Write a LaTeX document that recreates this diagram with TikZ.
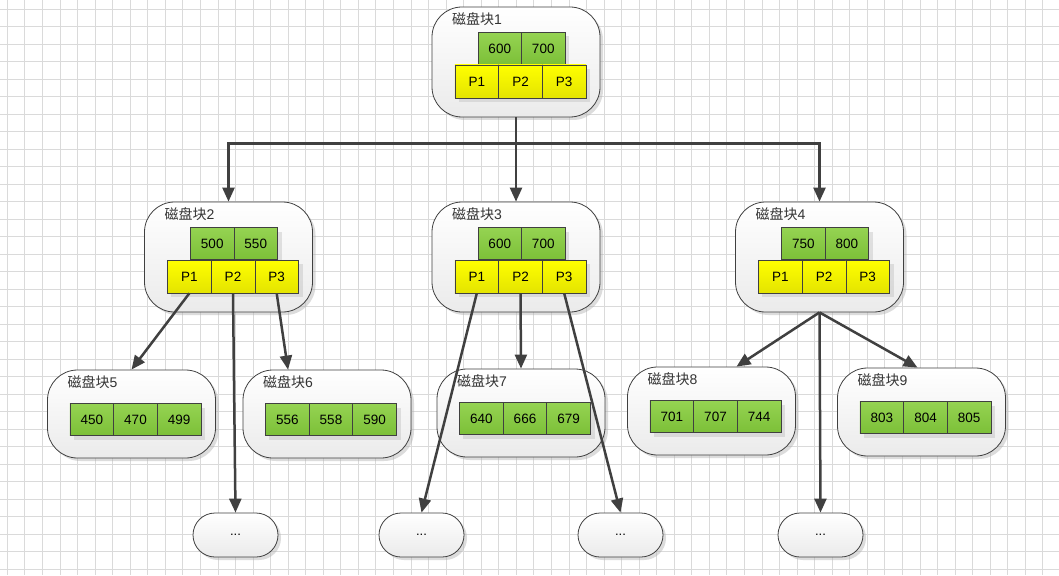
\documentclass[tikz,border=0pt]{standalone}
\usepackage{fontspec}
\setmainfont{Liberation Sans}
\newfontfamily\cjk{Noto Sans CJK SC}
\usetikzlibrary{arrows.meta,shadows,calc}
\definecolor{ln}{HTML}{404040}
\definecolor{gtop}{HTML}{95D352}
\definecolor{gbot}{HTML}{7CC038}
\definecolor{ytop}{HTML}{FFFF00}
\definecolor{ybot}{HTML}{E4E400}
\definecolor{gridc}{HTML}{DADADA}
\tikzset{
  blk/.style={draw=ln, line width=0.8pt, rounded corners=30pt, top color=white, bottom color=black!8,
    drop shadow={shadow xshift=3pt,shadow yshift=-3pt,fill=black!30,opacity=0.45},
    minimum width=168pt, inner sep=0pt},
  dotsbox/.style={blk, rounded corners=22pt, minimum width=85pt, minimum height=44pt, font=\fontsize{13}{13}\selectfont},
  gcell/.style={draw=ln, line width=0.7pt, top color=gtop, bottom color=gbot,
    drop shadow={shadow xshift=4pt,shadow yshift=-4pt,fill=black!30,opacity=0.35},
    minimum width=43.5pt, minimum height=32pt, inner sep=0pt, font=\fontsize{13.5}{13.5}\selectfont},
  ycell/.style={gcell, top color=ytop, bottom color=ybot, minimum width=43.7pt, minimum height=33pt},
  lbl/.style={anchor=west, inner sep=0pt, font=\fontsize{14}{14}\selectfont, text=black!80},
  conn/.style={draw=ln, line width=2.5pt, -{Triangle[length=14pt,width=12pt]}},
  gridline/.style={draw=gridc, line width=0.8pt},
}
% #1 name, #2 cx, #3 top, #4 number, #5 #6 keys
\newcommand\innerblk[6]{%
  \node[blk, minimum height=110pt] (#1) at (#2, #3+55) {};
  \node[lbl] (#1l) at (#2-64, #3+12) {{\cjk 磁盘块}#4};
  \node[gcell] (#1g1) at (#2-16.25, #3+41.5) {#5};
  \node[gcell] (#1g2) at (#2+27.25, #3+41.5) {#6};
  \node[ycell] (#1y1) at (#2-39.2, #3+74.5) {P1};
  \node[ycell] (#1y2) at (#2+4.5, #3+74.5) {P2};
  \node[ycell] (#1y3) at (#2+48.2, #3+74.5) {P3};
}
% #1 name, #2 cx, #3 top, #4 number, #5 #6 #7 keys
\newcommand\leafblk[7]{%
  \node[blk, minimum height=88pt] (#1) at (#2, #3+44) {};
  \node[lbl] (#1l) at (#2-64, #3+12) {{\cjk 磁盘块}#4};
  \node[gcell, minimum width=43.7pt] (#1g1) at (#2-39.67, #3+49.5) {#5};
  \node[gcell, minimum width=43.7pt] (#1g2) at (#2+4, #3+49.5) {#6};
  \node[gcell, minimum width=43.7pt] (#1g3) at (#2+47.67, #3+49.5) {#7};
}
\begin{document}
\begin{tikzpicture}[x=1pt,y=-1pt]
\useasboundingbox (0,0) rectangle (1059,575);
\fill[white] (0,0) rectangle (1059,575);
\foreach \i in {0,...,60} \draw[gridline] (7.3+17.55*\i,0) -- (7.3+17.55*\i,575);
\foreach \j in {0,...,32} \draw[gridline] (0,9.3+17.5*\j) -- (1059,9.3+17.5*\j);

\innerblk{b1}{516}{7}{1}{600}{700}
\innerblk{b2}{228.5}{202}{2}{500}{550}
\innerblk{b3}{516}{202}{3}{600}{700}
\innerblk{b4}{819.5}{202}{4}{750}{800}

\leafblk{b5}{131.5}{370}{5}{450}{470}{499}
\leafblk{b6}{327}{370}{6}{556}{558}{590}
\leafblk{b7}{521}{369}{7}{640}{666}{679}
\leafblk{b8}{711.5}{367}{8}{701}{707}{744}
\leafblk{b9}{921.5}{368}{9}{803}{804}{805}

\node[dotsbox] (e1) at (235.5,535) {...};
\node[dotsbox] (e2) at (421.5,535) {...};
\node[dotsbox] (e3) at (620.5,535) {...};
\node[dotsbox] (e4) at (820.5,535) {...};

\draw[conn] (b1.south) -- (b3.north);
\draw[conn] (b1.south) -- ++(0,26) -| (b2.north);
\draw[conn] (b1.south) -- ++(0,26) -| (b4.north);

\draw[conn] (b2y1.south) -- (b5.north);
\draw[conn] (b2y2.south) -- (e1.north);
\draw[conn] (b2y3.south) -- ($(b6.north)+(-39,0)$);

\draw[conn] (b3y1.south) -- (e2.north);
\draw[conn] (b3y2.south) -- (b7.north);
\draw[conn] (b3y3.south) -- (e3.north);

\draw[conn] (b4.south) -- ($(b8.north)+(25,0)$);
\draw[conn] (b4.south) -- ($(b9.north)+(-4,0)$);
\draw[conn] (b4.south) -- (e4.north);
\end{tikzpicture}
\end{document}
